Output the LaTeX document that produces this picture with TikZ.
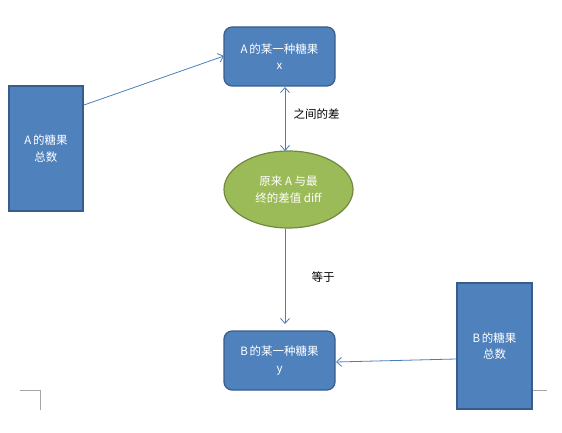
\documentclass[tikz,border=0pt]{standalone}
\usepackage{fontspec}
\setmainfont{Liberation Sans}
\newfontfamily\cjk{Noto Sans CJK SC}
\usetikzlibrary{arrows.meta,shapes.geometric}
\definecolor{boxfill}{HTML}{4F81BD}
\definecolor{boxline}{HTML}{385D8A}
\definecolor{ellfill}{HTML}{9BBB59}
\definecolor{ellline}{HTML}{71893F}
\definecolor{arrowc}{HTML}{4A7EBB}
\tikzset{
  x=1pt, y=-1pt,
  txt/.style={font=\cjk\fontsize{11.5}{16.5}\selectfont, align=center},
  sqbox/.style={draw=boxline, line width=1.2pt, fill=boxfill, text=white, txt, inner sep=0pt},
  rbox/.style={sqbox, rounded corners=8pt},
  ellnode/.style={draw=ellline, line width=1.2pt, fill=ellfill, text=white, txt, ellipse, inner sep=0pt},
  conn/.style={draw=arrowc, line width=0.8pt, -{Straight Barb[length=5pt,width=9pt]}},
  lbl/.style={txt, text=black},
  corner/.style={draw=gray!70, line width=0.8pt}
}
\begin{document}
\begin{tikzpicture}
\useasboundingbox (0,0) rectangle (562,433);
\node[sqbox, minimum width=74pt, minimum height=125pt] (atot) at (46,148.5) {A\,的糖果\\总数};
\node[rbox, minimum width=111pt, minimum height=59pt] (ax) at (279.5,56.5) {A\,的某一种糖果\\x};
\node[ellnode, minimum width=129pt, minimum height=77pt] (diff) at (288.5,189.5) {原来 A 与最\\终的差值 diff};
\node[rbox, minimum width=111pt, minimum height=59pt] (bx) at (279.5,360.5) {B\,的某一种糖果\\y};
\node[sqbox, minimum width=75pt, minimum height=126pt] (btot) at (494.5,346) {B\,的糖果\\总数};
\coordinate (a1) at (84,105);
\coordinate (a2) at (224,56);
\draw[conn] (a1) -- (a2);
\coordinate (d1) at (285,87);
\coordinate (d2) at (285,151);
\draw[conn, {Straight Barb[length=5pt,width=9pt]}-{Straight Barb[length=5pt,width=9pt]}] (d1) -- (d2);
\coordinate (e1) at (285,229);
\coordinate (e2) at (285,324);
\draw[conn] (e1) -- (e2);
\coordinate (b1) at (456,359);
\coordinate (b2) at (336,362);
\draw[conn] (b1) -- (b2);
\node[lbl, anchor=west] (l1) at (290,114) {之间的差};
\node[lbl, anchor=west] (l2) at (308,277) {等于};
\draw[corner] (20,390) -- (40,390) -- (40,410);
\draw[corner] (533,390) -- (547,390);
\end{tikzpicture}
\end{document}
